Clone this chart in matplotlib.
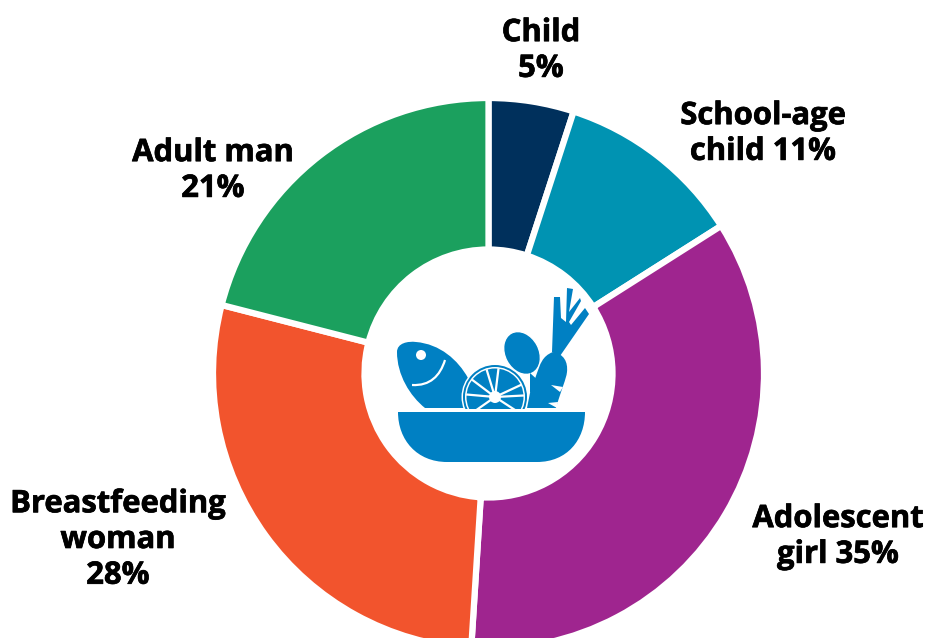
import numpy as np
import matplotlib
matplotlib.use('Agg')
import matplotlib.pyplot as plt
import matplotlib.patheffects as pe
from matplotlib.patches import Ellipse, Polygon, Circle, PathPatch, Rectangle
from matplotlib.path import Path

labels = ['Child\n5%', 'School-age\nchild 11%', 'Adolescent\ngirl 35%', 'Breastfeeding\nwoman\n28%', 'Adult man\n21%']
values = [5, 11, 35, 28, 21]
colors = ['#00305c', '#0093b2', '#9f258f', '#f2542d', '#1ba05e']
label_x = [541, 763, 838, 118, 213]
label_y = [51, 134, 537, 540, 171]

plt.rcParams['font.family'] = ['Open Sans', 'DejaVu Sans']

W, H = 926, 638
fig = plt.figure(figsize=(W / 100, H / 100), dpi=100)
ax = fig.add_axes([0, 0, 1, 1])

# y axis runs downward so the angles go clockwise on screen
cx, cy = 488.5, 373.5
ax.pie(values, colors=colors, startangle=-90, counterclock=True,
       center=(cx, cy), radius=275.5, frame=True,
       wedgeprops=dict(width=151.5, edgecolor='white', linewidth=4.5))
ax.set_xlim(0, W)
ax.set_ylim(H, 0)
ax.set_aspect('equal')
ax.axis('off')

for t, x, y in zip(labels, label_x, label_y):
    ax.text(x, y, t, ha='center', va='center', fontsize=22.3, fontweight='bold',
            color='black', linespacing=1.25,
            path_effects=[pe.withStroke(linewidth=0.5, foreground='black')])

blue = '#0080c3'
C = Path.CURVE4
L = Path.LINETO
M = Path.MOVETO

# bowl
bowl = Path([(398, 412), (585, 412), (585, 440), (567, 462), (537, 462), (447, 462), (417, 462), (398, 440), (398, 412), (398, 412)],
            [M, L, C, C, C, L, C, C, C, Path.CLOSEPOLY])
ax.add_patch(PathPatch(bowl, fc=blue, ec='none', zorder=5))

# fish
fish = Path([(397, 352), (397, 343), (408, 341), (416, 342), (440, 344), (458, 360), (468, 378),
             (482, 408), (425, 408), (410, 396), (397, 375), (397, 352), (397, 352)],
            [M, C, C, C, C, C, C, L, L, C, C, C, Path.CLOSEPOLY])
ax.add_patch(PathPatch(fish, fc=blue, ec='none', zorder=5))
ax.add_patch(Circle((421, 355), 5, fc='white', ec='none', zorder=6))
mouth = Path([(412, 385), (430, 386), (440, 376), (445, 360)], [M, C, C, C])
ax.add_patch(PathPatch(mouth, fc='none', ec='white', lw=1.6, zorder=6))

# lemon slice, cut off by the bowl rim
slice_clip = Rectangle((450, 360), 90, 48.5, transform=ax.transData)
lc = (495, 397)
parts = [Circle(lc, 33.5, fc='white', ec='none', zorder=6),
         Circle(lc, 32, fc=blue, ec='none', zorder=6),
         Circle(lc, 30, fc='white', ec='none', zorder=6),
         Circle(lc, 28.5, fc=blue, ec='none', zorder=6)]
for p in parts:
    ax.add_patch(p)
    p.set_clip_path(slice_clip)
for a in np.radians([-175, -143, -107, -83, -25, -3, 33, 145]):
    ln, = ax.plot([lc[0], lc[0] + 29 * np.cos(a)], [lc[1], lc[1] + 29 * np.sin(a)],
                  color='white', lw=1.6, zorder=7, solid_capstyle='butt')
    ln.set_clip_path(slice_clip)
hub = Circle(lc, 6, fc='white', ec='none', zorder=7)
ax.add_patch(hub)
hub.set_clip_path(slice_clip)

# egg
ax.add_patch(Ellipse((522, 353), 34, 45, angle=-28, fc=blue, ec='white', lw=1, zorder=6))

# carrot with notches along its side
carrot = Path([(553, 352), (564, 354), (568, 362), (567, 372), (566, 380), (562, 387), (556, 408), (527, 408),
               (530, 393), (537, 373), (540, 365), (542, 356), (553, 352), (553, 352)],
              [M, C, C, C, C, C, L, L, L, L, C, C, C, Path.CLOSEPOLY])
ax.add_patch(PathPatch(carrot, fc=blue, ec='none', zorder=7))
ax.add_patch(Polygon([(551, 385), (563, 387), (560, 392)], fc='white', ec='none', zorder=8))
ax.add_patch(Polygon([(548, 403), (558, 402), (557, 408)], fc='white', ec='none', zorder=8))
ax.add_patch(Polygon([(530, 373), (541, 383), (530, 393)], fc=blue, ec='none', zorder=7))

# carrot tops
tops = Polygon([(554, 297), (560, 297), (561, 318), (566, 322), (567, 288), (573, 289), (569, 312),
                (580, 298), (581, 301), (569, 322), (571, 325), (585, 308), (589, 314),
                (560, 356), (552, 352)], closed=True, fc=blue, ec='none', zorder=6)
ax.add_patch(tops)

fig.savefig('out.png', dpi=100)
